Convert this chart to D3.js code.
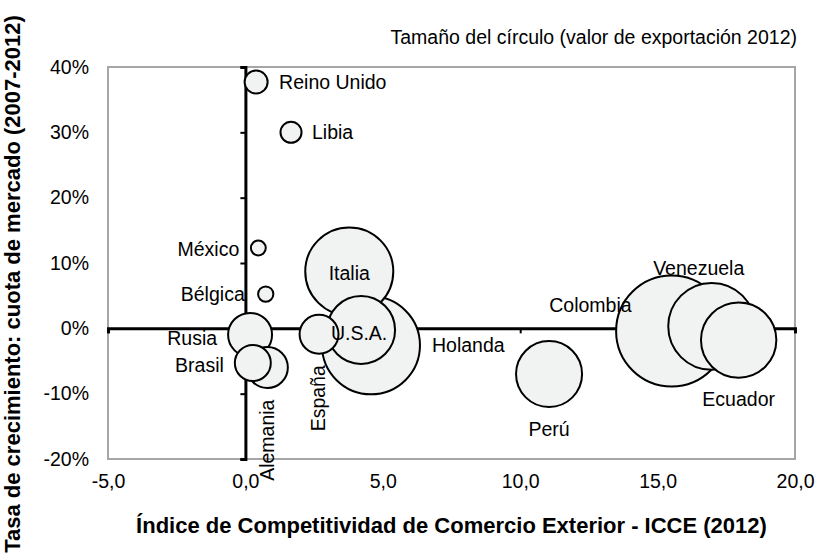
<!DOCTYPE html>
<html>
<head>
<meta charset="utf-8">
<script src="https://cdn.jsdelivr.net/npm/d3@7"></script>
<style>
body { margin: 0; background: #fff; }
text { font-family: "Liberation Sans", Arial, sans-serif; fill: #000; }
</style>
</head>
<body>
<script>
// datos
const paises = ["Colombia", "Holanda", "Italia", "Venezuela", "Ecuador", "U.S.A.", "Perú", "Rusia",
    "Alemania", "España", "Brasil", "Reino Unido", "Libia", "Bélgica", "México"];
const icce = [15.51, 4.57, 3.78, 16.97, 17.95, 4.21, 11.05, 0.17, 0.80, 2.68, 0.27, 0.39, 1.66, 0.74, 0.47];
const crecimiento = [-0.004, -0.026, 0.087, 0.003, -0.018, -0.0026, -0.070, -0.010, -0.060, -0.009, -0.053,
    0.377, 0.300, 0.0525, 0.123];
const exportacion = [1000, 779, 629, 614, 461, 375, 354, 157, 136, 123, 105, 43, 36, 19, 18];

const xTicks = [-5, 0, 5, 10, 15, 20],
    yTicks = [-0.2, -0.1, 0, 0.1, 0.2, 0.3, 0.4];

const width = 815, height = 558,
    margin = {left: 108, right: 20, top: 67, bottom: 99};

const rows = paises.map((p, i) => ({pais: p, x: icce[i], y: crecimiento[i], v: exportacion[i]}))
    .sort((a, b) => b.v - a.v);

const x = d3.scaleLinear().domain([-5, 20]).range([margin.left, width - margin.right]),
    y = d3.scaleLinear().domain([-0.2, 0.4]).range([height - margin.bottom, margin.top]),
    r = d3.scaleSqrt().domain([0, 1000]).range([0, 55.5]);

const es = d3.formatLocale({decimal: ",", thousands: ".", grouping: [3], currency: ["", "€"], minus: "-"}),
    fx = es.format(".1f"),
    fy = d => Math.round(d * 100) + "%";

const svg = d3.select("body").append("svg").attr("width", width).attr("height", height);

// marco del area de trazado
svg.append("rect")
    .attr("x", margin.left).attr("y", margin.top)
    .attr("width", x.range()[1] - x.range()[0])
    .attr("height", y.range()[0] - y.range()[1])
    .attr("fill", "none").attr("stroke", "#a6a6a6").attr("stroke-width", 2);

// etiquetas de los ejes en los bordes
const yLab = svg.append("g")
    .attr("transform", "translate(" + margin.left + ",0)")
    .call(d3.axisLeft(y).tickValues(yTicks).tickSize(0).tickPadding(19).tickFormat(fy));
const xLab = svg.append("g")
    .attr("transform", "translate(0," + y.range()[0] + ")")
    .call(d3.axisBottom(x).tickValues(xTicks).tickSize(0).tickPadding(15).tickFormat(fx));
[yLab, xLab].forEach(g => {
    g.select(".domain").remove();
    g.selectAll("text").attr("font-size", "19.5px").attr("font-family", "Liberation Sans, Arial, sans-serif").attr("fill", "#000");
});

// ejes que cruzan en el origen
const yCross = svg.append("g")
    .attr("transform", "translate(" + x(0) + ",0)")
    .call(d3.axisLeft(y).tickValues(yTicks).tickSize(5).tickSizeOuter(5).tickFormat(""));
const xCross = svg.append("g")
    .attr("transform", "translate(0," + y(0) + ")")
    .call(d3.axisBottom(x).tickValues(xTicks).tickSize(5).tickSizeOuter(5).tickFormat(""));
[yCross, xCross].forEach(g => {
    g.select(".domain").attr("stroke", "#000").attr("stroke-width", 3);
    g.selectAll(".tick line").attr("stroke", "#000").attr("stroke-width", 2);
});

// burbujas
svg.append("g").selectAll("circle")
    .data(rows)
    .join("circle")
    .attr("cx", d => x(d.x))
    .attr("cy", d => y(d.y))
    .attr("r", d => r(d.v))
    .attr("fill", "#f1f2f2")
    .attr("stroke", "#000")
    .attr("stroke-width", 2);

// colocacion de cada etiqueta respecto al centro de su burbuja
const etiquetas = {
    "Reino Unido": {dx: 23, dy: 0.5, a: "start"},
    "Libia": {dx: 21, dy: 0, a: "start"},
    "México": {dx: -19, dy: 1.3, a: "end"},
    "Bélgica": {dx: -21, dy: 0, a: "end"},
    "Italia": {dx: 0, dy: 2, a: "middle"},
    "U.S.A.": {dx: -2, dy: 3, a: "middle"},
    "Holanda": {dx: 61, dy: 0, a: "start"},
    "Colombia": {dx: -40, dy: -26, a: "end"},
    "Venezuela": {dx: -13, dy: -58.5, a: "middle"},
    "Ecuador": {dx: 0, dy: 59, a: "middle"},
    "Perú": {dx: 0, dy: 55, a: "middle"},
    "Rusia": {dx: -33, dy: 3, a: "end"},
    "Brasil": {dx: -29, dy: 2, a: "end"},
    "Alemania": {dx: 0, dy: 32, a: "end", rot: true},
    "España": {dx: -1, dy: 31, a: "end", rot: true}
};

svg.append("g").selectAll("text")
    .data(rows)
    .join("text")
    .attr("font-size", "19.5px")
    .attr("text-anchor", d => etiquetas[d.pais].a)
    .attr("dy", "0.35em")
    .attr("transform", d => {
        const e = etiquetas[d.pais];
        return "translate(" + (x(d.x) + e.dx) + "," + (y(d.y) + e.dy) + ")" + (e.rot ? " rotate(-90)" : "");
    })
    .text(d => d.pais);

// titulos
svg.append("text")
    .attr("x", 797).attr("y", 44)
    .attr("text-anchor", "end")
    .attr("font-size", "19.5px")
    .text("Tamaño del círculo (valor de exportación 2012)");

svg.append("text")
    .attr("x", 451.5).attr("y", 533)
    .attr("text-anchor", "middle")
    .attr("font-size", "22px").attr("font-weight", "bold")
    .text("Índice de Competitividad de Comercio Exterior - ICCE (2012)");

svg.append("text")
    .attr("transform", "translate(19.5,284) rotate(-90)")
    .attr("text-anchor", "middle")
    .attr("font-size", "22px").attr("font-weight", "bold")
    .text("Tasa de crecimiento: cuota de mercado (2007-2012)");
</script>
</body>
</html>
